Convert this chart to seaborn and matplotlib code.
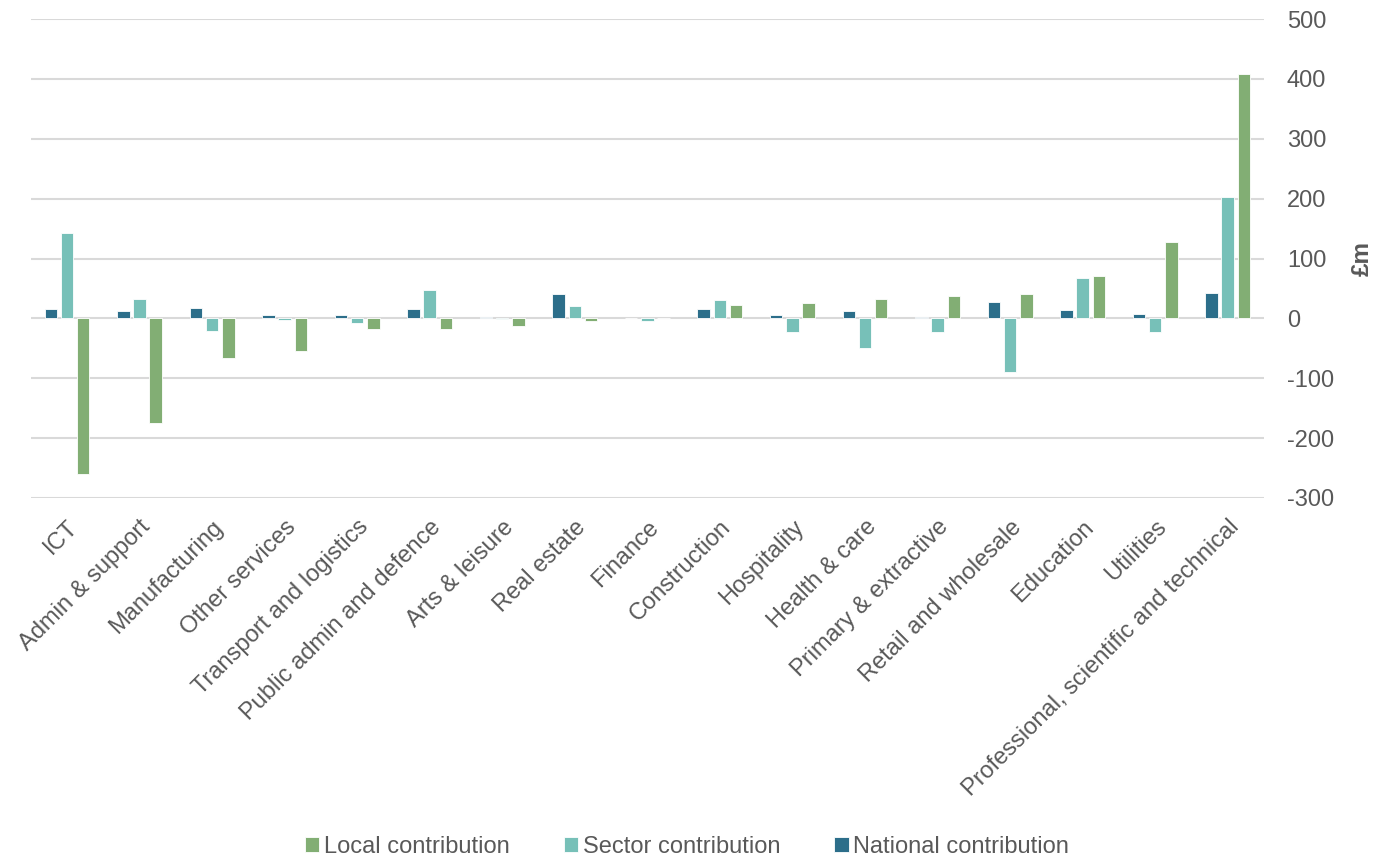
import matplotlib
matplotlib.use("Agg")
import matplotlib.pyplot as plt
import seaborn as sns
import pandas as pd

sectors = [
    "ICT", "Admin & support", "Manufacturing", "Other services",
    "Transport and logistics", "Public admin and defence", "Arts & leisure",
    "Real estate", "Finance", "Construction", "Hospitality", "Health & care",
    "Primary & extractive", "Retail and wholesale", "Education", "Utilities",
    "Professional, scientific and technical",
]
national = [16, 12, 17, 5, 6, 15, 2, 41, 1, 15, 6, 12, 2, 28, 14, 7, 42]
sector = [143, 33, -21, -3, -8, 48, -1, 21, -5, 31, -23, -50, -22, -90, 68, -22, 202]
local = [-260, -175, -66, -55, -18, -18, -12, -5, 0, 22, 25, 33, 37, 41, 70, 128, 408]

series_names = ["National contribution", "Sector contribution", "Local contribution"]
colors = {"National contribution": "#2C6E8A",
          "Sector contribution": "#77C0B8",
          "Local contribution": "#82AE74"}

rows = []
for name, vals in zip(series_names, [national, sector, local]):
    for s, v in zip(sectors, vals):
        rows.append({"Sector": s, "Series": name, "Value": v})
df = pd.DataFrame(rows)

sns.set_theme(style="white")
plt.rcParams["font.family"] = ["Liberation Sans", "DejaVu Sans"]
plt.rcParams["axes.unicode_minus"] = False

W, H = 1374, 856
fig = plt.figure(figsize=(W / 100, H / 100), dpi=100)
ax = fig.add_axes([30.7 / W, 1 - 498 / H, 1233.3 / W, 479 / H])

sns.barplot(data=df, x="Sector", y="Value", hue="Series", order=sectors,
            hue_order=series_names, palette=colors, saturation=1,
            width=0.67, gap=0.23, edgecolor="white", linewidth=0.6,
            ax=ax, legend=True)

ax.set_ylim(-300, 500)
ax.set_yticks(range(-300, 501, 100))
ax.set_xlim(-0.5, len(sectors) - 0.5)
ax.yaxis.tick_right()
ax.grid(axis="y", color="#D9D9D9", linewidth=1.5)
ax.set_axisbelow(True)
for sp in ax.spines.values():
    sp.set_visible(False)

grey = "#595959"
ax.tick_params(axis="y", labelsize=17, colors=grey, length=0, pad=16.5)
ax.tick_params(axis="x", labelsize=17, colors=grey, length=0, pad=13)
for lbl in ax.get_yticklabels():
    lbl.set_horizontalalignment("left")
plt.setp(ax.get_xticklabels(), rotation=45, ha="right", rotation_mode="anchor")
ax.set_xlabel("")
ax.set_ylabel("£m", fontsize=17.5, fontweight="bold", color=grey,
              rotation=90, ha="center", va="center")
ax.yaxis.set_label_coords((1362 - 30.7) / 1233.3, 0.5)

handles, labels = ax.get_legend_handles_labels()
ax.get_legend().remove()
order = [2, 1, 0]
fig.legend([handles[i] for i in order], [labels[i] for i in order],
           loc="lower center", bbox_to_anchor=(0.5, -0.027), ncol=3,
           frameon=False, fontsize=17, labelcolor=grey,
           handlelength=0.6, handleheight=0.6, handletextpad=0.2,
           columnspacing=2.3)

fig.savefig("out.png", dpi=100)
